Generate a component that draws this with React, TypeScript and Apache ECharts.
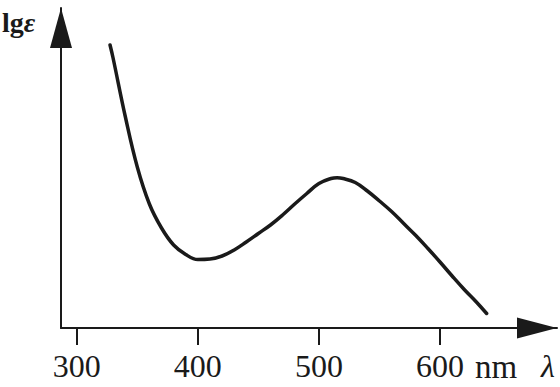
import React, { useEffect, useRef } from "react";
import * as echarts from "echarts";

// wavelength (nm)
const wavelengths = [327.5, 330, 340, 350, 360, 370, 380, 390, 400, 410, 420, 430, 440, 450, 460, 470, 480, 490, 500, 510, 515, 520, 530, 540, 550, 560, 570, 580, 590, 600, 610, 620, 630, 638.5];
// lg ε (arbitrary units)
const lgEps = [2.83, 2.70, 2.12, 1.61, 1.24, 1.0, 0.83, 0.735, 0.685, 0.69, 0.72, 0.78, 0.86, 0.945, 1.03, 1.13, 1.24, 1.345, 1.445, 1.495, 1.503, 1.495, 1.455, 1.37, 1.27, 1.165, 1.045, 0.925, 0.795, 0.66, 0.52, 0.385, 0.26, 0.145];
const tickValues = [300, 400, 500, 600];

export default function App() {
  const ref = useRef<HTMLDivElement>(null);
  useEffect(() => {
    if (!ref.current) return;
    const chart = echarts.init(ref.current, null, { renderer: "svg" });
    const ink = "#1a1a1a";
    const serif = "Liberation Serif";
    chart.setOption({
      animation: false,
      backgroundColor: "#ffffff",
      grid: { left: 61, right: 3, top: 8, bottom: 59, containLabel: false },
      xAxis: {
        type: "value",
        min: 287,
        max: 696.6,
        splitLine: { show: false },
        axisLine: {
          show: true,
          onZero: false,
          symbol: ["none", "triangle"],
          symbolSize: [21, 40],
          symbolOffset: [0, -20],
          lineStyle: { color: ink, width: 2 },
        },
        axisTick: {
          show: true,
          length: 17,
          customValues: tickValues,
          lineStyle: { color: ink, width: 2 },
        },
        axisLabel: {
          show: true,
          customValues: tickValues,
          margin: 22,
          color: ink,
          fontFamily: serif,
          fontSize: 32,
        },
      },
      yAxis: {
        type: "value",
        min: 0,
        max: 3.2,
        splitLine: { show: false },
        axisLine: {
          show: true,
          onZero: false,
          symbol: ["none", "triangle"],
          symbolSize: [22, 40],
          symbolOffset: [0, -20],
          lineStyle: { color: ink, width: 2 },
        },
        axisTick: { show: false },
        axisLabel: { show: false },
      },
      series: [
        {
          type: "line",
          data: wavelengths.map((w, i) => [w, lgEps[i]]),
          smooth: 0.4,
          showSymbol: false,
          lineStyle: { color: ink, width: 3.5, cap: "round" },
        },
      ],
      graphic: [
        {
          type: "text",
          left: 2,
          top: 8,
          style: {
            text: "{a|lg}{b|ε}",
            rich: {
              a: { fontFamily: serif, fontSize: 28, fontWeight: "bold", fill: ink },
              b: { fontFamily: serif, fontSize: 28, fontStyle: "italic", fontWeight: "bold", fill: ink },
            },
          },
        },
        {
          type: "text",
          left: 475,
          top: 350,
          style: { text: "nm", fontFamily: serif, fontSize: 33, fill: ink },
        },
        {
          type: "text",
          left: 541,
          top: 350,
          style: { text: "λ", fontFamily: serif, fontSize: 32, fontStyle: "italic", fill: ink },
        },
      ],
    });
    return () => chart.dispose();
  }, []);
  return <div ref={ref} style={{ width: 560, height: 387, position: "fixed", left: 0, top: 0 }} />;
}
